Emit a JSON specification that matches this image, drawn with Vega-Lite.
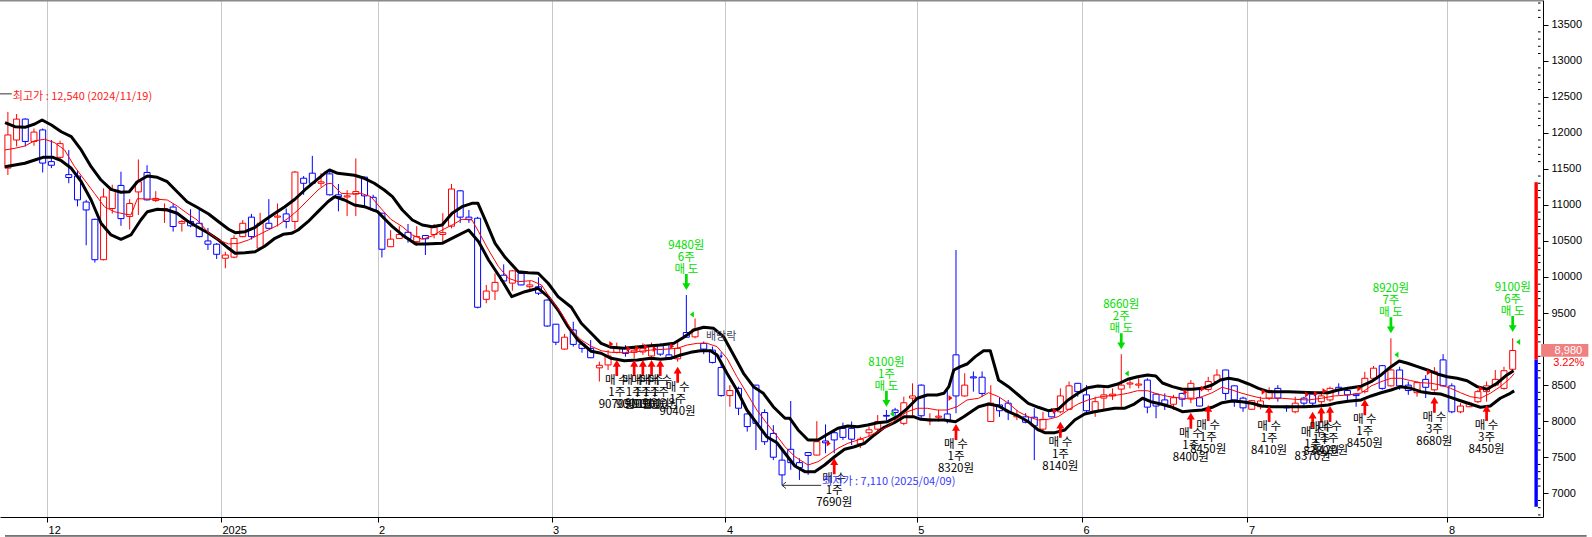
{
  "$schema": "https://vega.github.io/schema/vega-lite/v6.json",
  "width": 1543,
  "height": 517,
  "autosize": {"type": "none"},
  "padding": {"left": 0, "top": 0, "right": 49, "bottom": 20},
  "background": "#FFFFFF",
  "config": {"view": {"stroke": null}, "axis": {"title": null}},
  "datasets": {
    "candles": [
      {"i":-5,"o":11510,"h":12290,"l":11415,"c":11970},
      {"i":-4,"o":11900,"h":12260,"l":11810,"c":12190},
      {"i":-3,"o":12190,"h":12200,"l":11810,"c":11880},
      {"i":-2,"o":11880,"h":12060,"l":11820,"c":12010},
      {"i":-1,"o":12040,"h":12060,"l":11450,"c":11580},
      {"i":0,"o":11600,"h":11900,"l":11510,"c":11550},
      {"i":1,"o":11660,"h":11890,"l":11620,"c":11850},
      {"i":2,"o":11420,"h":11760,"l":11300,"c":11380},
      {"i":3,"o":11400,"h":11480,"l":10980,"c":11070},
      {"i":4,"o":11040,"h":11070,"l":10440,"c":10930},
      {"i":5,"o":10800,"h":10810,"l":10200,"c":10240},
      {"i":6,"o":10240,"h":11230,"l":10230,"c":11110},
      {"i":7,"o":10950,"h":11280,"l":10880,"c":11210},
      {"i":8,"o":11270,"h":11460,"l":10710,"c":10810},
      {"i":9,"o":10840,"h":11080,"l":10660,"c":11020},
      {"i":10,"o":11180,"h":11630,"l":10860,"c":11320},
      {"i":11,"o":11450,"h":11550,"l":11060,"c":11070},
      {"i":12,"o":11060,"h":11190,"l":11040,"c":11090},
      {"i":13,"o":10930,"h":11020,"l":10750,"c":10950},
      {"i":14,"o":10970,"h":11020,"l":10630,"c":10700},
      {"i":15,"o":10745,"h":10790,"l":10630,"c":10770},
      {"i":16,"o":10770,"h":10940,"l":10690,"c":10710},
      {"i":17,"o":10745,"h":10950,"l":10550,"c":10560},
      {"i":18,"o":10500,"h":10680,"l":10375,"c":10455},
      {"i":19,"o":10455,"h":10470,"l":10250,"c":10315},
      {"i":20,"o":10260,"h":10350,"l":10120,"c":10305},
      {"i":21,"o":10275,"h":10580,"l":10260,"c":10535},
      {"i":22,"o":10560,"h":10790,"l":10550,"c":10745},
      {"i":23,"o":10830,"h":10875,"l":10520,"c":10560},
      {"i":24,"o":10400,"h":10890,"l":10390,"c":10745},
      {"i":25,"o":10745,"h":11080,"l":10670,"c":10675},
      {"i":26,"o":10830,"h":11020,"l":10700,"c":10845},
      {"i":27,"o":10875,"h":10950,"l":10675,"c":10770},
      {"i":28,"o":10770,"h":11470,"l":10660,"c":11455},
      {"i":29,"o":11370,"h":11400,"l":11140,"c":11300},
      {"i":30,"o":11440,"h":11680,"l":11295,"c":11300},
      {"i":31,"o":11300,"h":11440,"l":11250,"c":11320},
      {"i":32,"o":11430,"h":11460,"l":11130,"c":11140},
      {"i":33,"o":11140,"h":11290,"l":10910,"c":11115},
      {"i":34,"o":11110,"h":11205,"l":10845,"c":11125},
      {"i":35,"o":11150,"h":11645,"l":10845,"c":11185},
      {"i":36,"o":11385,"h":11390,"l":10975,"c":11125},
      {"i":37,"o":11105,"h":11140,"l":10905,"c":10930},
      {"i":38,"o":10885,"h":10890,"l":10270,"c":10385},
      {"i":39,"o":10420,"h":10650,"l":10415,"c":10525},
      {"i":40,"o":10535,"h":10705,"l":10530,"c":10590},
      {"i":41,"o":10620,"h":10735,"l":10475,"c":10535},
      {"i":42,"o":10490,"h":10705,"l":10430,"c":10560},
      {"i":43,"o":10575,"h":10580,"l":10305,"c":10530},
      {"i":44,"o":10590,"h":10735,"l":10535,"c":10685},
      {"i":45,"o":10590,"h":10885,"l":10490,"c":10615},
      {"i":46,"o":10705,"h":11290,"l":10675,"c":11220},
      {"i":47,"o":11195,"h":11205,"l":10750,"c":10830},
      {"i":48,"o":10830,"h":10930,"l":10750,"c":10800},
      {"i":49,"o":10815,"h":10835,"l":9565,"c":9580},
      {"i":50,"o":9690,"h":9890,"l":9635,"c":9805},
      {"i":51,"o":9805,"h":10050,"l":9680,"c":9925},
      {"i":52,"o":10025,"h":10175,"l":9890,"c":9945},
      {"i":53,"o":9915,"h":10095,"l":9810,"c":10085},
      {"i":54,"o":10050,"h":10070,"l":9885,"c":9890},
      {"i":55,"o":9865,"h":9945,"l":9810,"c":9890},
      {"i":56,"o":9865,"h":9995,"l":9750,"c":9775},
      {"i":57,"o":9680,"h":9690,"l":9310,"c":9320},
      {"i":58,"o":9345,"h":9350,"l":9055,"c":9095},
      {"i":59,"o":9000,"h":9210,"l":8990,"c":9165},
      {"i":60,"o":9265,"h":9380,"l":9035,"c":9065},
      {"i":61,"o":9070,"h":9105,"l":8950,"c":9010},
      {"i":62,"o":9010,"h":9125,"l":8875,"c":8880},
      {"i":63,"o":8740,"h":8825,"l":8550,"c":8775},
      {"i":64,"o":8780,"h":8985,"l":8710,"c":8905},
      {"i":65,"o":8955,"h":9090,"l":8940,"c":9020},
      {"i":66,"o":9010,"h":9055,"l":8895,"c":8940},
      {"i":67,"o":8955,"h":9035,"l":8870,"c":8985},
      {"i":68,"o":8960,"h":9080,"l":8920,"c":9010},
      {"i":69,"o":8905,"h":9090,"l":8870,"c":9035},
      {"i":70,"o":9055,"h":9080,"l":8905,"c":8930},
      {"i":71,"o":8920,"h":9055,"l":8850,"c":8865},
      {"i":72,"o":8865,"h":9125,"l":8825,"c":9010},
      {"i":73,"o":9230,"h":9750,"l":9160,"c":9165},
      {"i":74,"o":9170,"h":9425,"l":9150,"c":9275},
      {"i":75,"o":9080,"h":9105,"l":8930,"c":9000},
      {"i":76,"o":8985,"h":9035,"l":8800,"c":8815},
      {"i":77,"o":8745,"h":8805,"l":8340,"c":8355},
      {"i":78,"o":8355,"h":8500,"l":8200,"c":8425},
      {"i":79,"o":8455,"h":8480,"l":8085,"c":8180},
      {"i":80,"o":8100,"h":8110,"l":7855,"c":7925},
      {"i":81,"o":8500,"h":8505,"l":7600,"c":7970},
      {"i":82,"o":8120,"h":8165,"l":7670,"c":7715},
      {"i":83,"o":7830,"h":7945,"l":7460,"c":7500},
      {"i":84,"o":7460,"h":7600,"l":7110,"c":7255},
      {"i":85,"o":7610,"h":8280,"l":7325,"c":7425},
      {"i":86,"o":7425,"h":7485,"l":7185,"c":7355},
      {"i":87,"o":7565,"h":7570,"l":7255,"c":7525},
      {"i":88,"o":7530,"h":8000,"l":7525,"c":7715},
      {"i":89,"o":7725,"h":7955,"l":7555,"c":7700},
      {"i":90,"o":7840,"h":7890,"l":7555,"c":7740},
      {"i":91,"o":7900,"h":7980,"l":7740,"c":7775},
      {"i":92,"o":7900,"h":7995,"l":7670,"c":7750},
      {"i":93,"o":7685,"h":7785,"l":7625,"c":7750},
      {"i":94,"o":7840,"h":7925,"l":7785,"c":7880},
      {"i":95,"o":7890,"h":8085,"l":7830,"c":7995},
      {"i":96,"o":8080,"h":8155,"l":7995,"c":8070},
      {"i":97,"o":8155,"h":8185,"l":8015,"c":8120},
      {"i":98,"o":7970,"h":8340,"l":7945,"c":8255},
      {"i":99,"o":8320,"h":8525,"l":8060,"c":8350},
      {"i":100,"o":8500,"h":8510,"l":8040,"c":8075},
      {"i":101,"o":8005,"h":8110,"l":7945,"c":8025},
      {"i":102,"o":8055,"h":8155,"l":7995,"c":8070},
      {"i":103,"o":8100,"h":8455,"l":7970,"c":8015},
      {"i":104,"o":8920,"h":10375,"l":8110,"c":8350},
      {"i":105,"o":8350,"h":8665,"l":8340,"c":8500},
      {"i":106,"o":8615,"h":8690,"l":8410,"c":8600},
      {"i":107,"o":8610,"h":8690,"l":8340,"c":8385},
      {"i":108,"o":7995,"h":8500,"l":7990,"c":8250},
      {"i":109,"o":8225,"h":8330,"l":8060,"c":8145},
      {"i":110,"o":8250,"h":8295,"l":8015,"c":8130},
      {"i":111,"o":8060,"h":8155,"l":8015,"c":8080},
      {"i":112,"o":8060,"h":8110,"l":7970,"c":7985},
      {"i":113,"o":8055,"h":8180,"l":7460,"c":7935},
      {"i":114,"o":7890,"h":8130,"l":7830,"c":8025},
      {"i":115,"o":8145,"h":8180,"l":8055,"c":8060},
      {"i":116,"o":8130,"h":8455,"l":8110,"c":8350},
      {"i":117,"o":8165,"h":8550,"l":8155,"c":8490},
      {"i":118,"o":8525,"h":8530,"l":8340,"c":8410},
      {"i":119,"o":8365,"h":8500,"l":8085,"c":8145},
      {"i":120,"o":8130,"h":8340,"l":8060,"c":8270},
      {"i":121,"o":8320,"h":8455,"l":8155,"c":8365},
      {"i":122,"o":8350,"h":8455,"l":8295,"c":8375},
      {"i":123,"o":8445,"h":8930,"l":8200,"c":8500},
      {"i":124,"o":8515,"h":8595,"l":8455,"c":8530},
      {"i":125,"o":8500,"h":8595,"l":8455,"c":8515},
      {"i":126,"o":8570,"h":8595,"l":8110,"c":8195},
      {"i":127,"o":8375,"h":8385,"l":8040,"c":8210},
      {"i":128,"o":8295,"h":8385,"l":8155,"c":8235},
      {"i":129,"o":8235,"h":8365,"l":8155,"c":8325},
      {"i":130,"o":8385,"h":8395,"l":8200,"c":8305},
      {"i":131,"o":8320,"h":8570,"l":8250,"c":8525},
      {"i":132,"o":8325,"h":8455,"l":8205,"c":8210},
      {"i":133,"o":8440,"h":8615,"l":8410,"c":8550},
      {"i":134,"o":8550,"h":8720,"l":8525,"c":8640},
      {"i":135,"o":8710,"h":8715,"l":8295,"c":8385},
      {"i":136,"o":8490,"h":8495,"l":8200,"c":8295},
      {"i":137,"o":8320,"h":8340,"l":8130,"c":8185},
      {"i":138,"o":8165,"h":8295,"l":8155,"c":8285},
      {"i":139,"o":8200,"h":8340,"l":8165,"c":8280},
      {"i":140,"o":8320,"h":8470,"l":8295,"c":8425},
      {"i":141,"o":8455,"h":8500,"l":8270,"c":8320},
      {"i":142,"o":8205,"h":8225,"l":8130,"c":8185},
      {"i":143,"o":8130,"h":8340,"l":8110,"c":8250},
      {"i":144,"o":8320,"h":8340,"l":8200,"c":8250},
      {"i":145,"o":8375,"h":8410,"l":8200,"c":8250},
      {"i":146,"o":8270,"h":8385,"l":8200,"c":8350},
      {"i":147,"o":8295,"h":8480,"l":8270,"c":8455},
      {"i":148,"o":8470,"h":8525,"l":8365,"c":8435},
      {"i":149,"o":8425,"h":8455,"l":8295,"c":8365},
      {"i":150,"o":8375,"h":8390,"l":8200,"c":8355},
      {"i":151,"o":8410,"h":8685,"l":8385,"c":8595},
      {"i":152,"o":8595,"h":8765,"l":8570,"c":8735},
      {"i":153,"o":8770,"h":8780,"l":8435,"c":8455},
      {"i":154,"o":8490,"h":9150,"l":8480,"c":8710},
      {"i":155,"o":8710,"h":8755,"l":8435,"c":8490},
      {"i":156,"o":8500,"h":8550,"l":8365,"c":8425},
      {"i":157,"o":8395,"h":8550,"l":8340,"c":8535},
      {"i":158,"o":8580,"h":8640,"l":8320,"c":8470},
      {"i":159,"o":8435,"h":8750,"l":8410,"c":8685},
      {"i":160,"o":8850,"h":8930,"l":8480,"c":8490},
      {"i":161,"o":8490,"h":8525,"l":8110,"c":8130},
      {"i":162,"o":8130,"h":8250,"l":8110,"c":8210},
      {"i":163,"o":8200,"h":8270,"l":8195,"c":8250},
      {"i":164,"o":8270,"h":8435,"l":8250,"c":8410},
      {"i":165,"o":8410,"h":8550,"l":8270,"c":8490},
      {"i":166,"o":8500,"h":8710,"l":8480,"c":8580},
      {"i":167,"o":8455,"h":8755,"l":8435,"c":8700},
      {"i":168,"o":8720,"h":9150,"l":8700,"c":8980}
    ],
    "env": [
      {"s":"U","i":-5.33,"v":12140},{"s":"U","i":-4.19,"v":12085},{"s":"U","i":-3.05,"v":12076},{"s":"U","i":-1.91,"v":12122},{"s":"U","i":-1.07,"v":12178},{"s":"U","i":0,"v":12108},{"s":"U","i":1.14,"v":12015},{"s":"U","i":2.29,"v":11946},{"s":"U","i":3.43,"v":11762},{"s":"U","i":4.57,"v":11530},{"s":"U","i":5.71,"v":11345},{"s":"U","i":6.86,"v":11216},{"s":"U","i":8.0,"v":11175},{"s":"U","i":8.95,"v":11183},{"s":"U","i":9.89,"v":11322},{"s":"U","i":11.04,"v":11401},{"s":"U","i":12.18,"v":11383},{"s":"U","i":13.32,"v":11322},{"s":"U","i":14.46,"v":11183},{"s":"U","i":15.6,"v":11044},{"s":"U","i":16.75,"v":10967},{"s":"U","i":18.08,"v":10874},{"s":"U","i":19.23,"v":10767},{"s":"U","i":20.37,"v":10662},{"s":"U","i":21.13,"v":10615},{"s":"U","i":22.27,"v":10628},{"s":"U","i":23.42,"v":10689},{"s":"U","i":24.56,"v":10791},{"s":"U","i":25.7,"v":10884},{"s":"U","i":26.84,"v":10975},{"s":"U","i":27.99,"v":11078},{"s":"U","i":29.13,"v":11207},{"s":"U","i":30.27,"v":11322},{"s":"U","i":31.41,"v":11438},{"s":"U","i":31.98,"v":11484},{"s":"U","i":32.93,"v":11438},{"s":"U","i":34.84,"v":11411},{"s":"U","i":35.98,"v":11369},{"s":"U","i":37.12,"v":11300},{"s":"U","i":38.27,"v":11207},{"s":"U","i":39.21,"v":11114},{"s":"U","i":40.35,"v":10929},{"s":"U","i":41.5,"v":10791},{"s":"U","i":42.64,"v":10721},{"s":"U","i":43.78,"v":10698},{"s":"U","i":44.92,"v":10721},{"s":"U","i":46.07,"v":10884},{"s":"U","i":47.21,"v":10975},{"s":"U","i":48.35,"v":11022},{"s":"U","i":49.04,"v":11022},{"s":"U","i":49.87,"v":10791},{"s":"U","i":51.01,"v":10467},{"s":"U","i":52.16,"v":10273},{"s":"U","i":53.69,"v":10074},{"s":"U","i":54.83,"v":10060},{"s":"U","i":55.97,"v":10051},{"s":"U","i":57.11,"v":9913},{"s":"U","i":58.25,"v":9727},{"s":"U","i":59.78,"v":9580},{"s":"U","i":60.92,"v":9358},{"s":"U","i":62.06,"v":9219},{"s":"U","i":63.2,"v":9080},{"s":"U","i":64.35,"v":9025},{"s":"U","i":65.86,"v":9011},{"s":"U","i":67.0,"v":9025},{"s":"U","i":68.53,"v":9043},{"s":"U","i":70.05,"v":9057},{"s":"U","i":71.57,"v":9080},{"s":"U","i":72.71,"v":9164},{"s":"U","i":73.86,"v":9265},{"s":"U","i":75.0,"v":9302},{"s":"U","i":76.14,"v":9288},{"s":"U","i":77.28,"v":9172},{"s":"U","i":78.43,"v":8918},{"s":"U","i":79.57,"v":8664},{"s":"U","i":80.71,"v":8478},{"s":"U","i":81.85,"v":8387},{"s":"U","i":82.99,"v":8201},{"s":"U","i":84.34,"v":8040},{"s":"U","i":84.9,"v":8040},{"s":"U","i":85.85,"v":7878},{"s":"U","i":86.99,"v":7739},{"s":"U","i":88.14,"v":7739},{"s":"U","i":89.28,"v":7822},{"s":"U","i":90.42,"v":7901},{"s":"U","i":91.56,"v":7933},{"s":"U","i":92.71,"v":7924},{"s":"U","i":93.85,"v":7947},{"s":"U","i":94.99,"v":7979},{"s":"U","i":96.13,"v":7993},{"s":"U","i":97.27,"v":8062},{"s":"U","i":98.42,"v":8179},{"s":"U","i":99.56,"v":8318},{"s":"U","i":100.7,"v":8363},{"s":"U","i":101.83,"v":8363},{"s":"U","i":102.61,"v":8387},{"s":"U","i":103.18,"v":8479},{"s":"U","i":103.75,"v":8710},{"s":"U","i":104.51,"v":8756},{"s":"U","i":105.27,"v":8793},{"s":"U","i":106.22,"v":8895},{"s":"U","i":107.17,"v":8978},{"s":"U","i":107.94,"v":8978},{"s":"U","i":108.89,"v":8571},{"s":"U","i":110.03,"v":8478},{"s":"U","i":111.17,"v":8363},{"s":"U","i":112.31,"v":8248},{"s":"U","i":113.46,"v":8193},{"s":"U","i":114.6,"v":8146},{"s":"U","i":115.74,"v":8165},{"s":"U","i":116.89,"v":8294},{"s":"U","i":118.03,"v":8387},{"s":"U","i":119.17,"v":8465},{"s":"U","i":120.31,"v":8488},{"s":"U","i":121.45,"v":8478},{"s":"U","i":122.6,"v":8516},{"s":"U","i":123.74,"v":8581},{"s":"U","i":124.88,"v":8617},{"s":"U","i":126.02,"v":8641},{"s":"U","i":126.97,"v":8627},{"s":"U","i":127.74,"v":8530},{"s":"U","i":128.88,"v":8479},{"s":"U","i":130.02,"v":8442},{"s":"U","i":131.16,"v":8442},{"s":"U","i":132.31,"v":8456},{"s":"U","i":133.45,"v":8502},{"s":"U","i":134.4,"v":8571},{"s":"U","i":135.35,"v":8595},{"s":"U","i":136.5,"v":8571},{"s":"U","i":137.64,"v":8516},{"s":"U","i":138.78,"v":8456},{"s":"U","i":139.92,"v":8409},{"s":"U","i":142.2,"v":8409},{"s":"U","i":143.73,"v":8401},{"s":"U","i":145.25,"v":8395},{"s":"U","i":146.78,"v":8395},{"s":"U","i":147.92,"v":8433},{"s":"U","i":149.06,"v":8456},{"s":"U","i":150.58,"v":8485},{"s":"U","i":151.72,"v":8548},{"s":"U","i":152.87,"v":8641},{"s":"U","i":154.01,"v":8756},{"s":"U","i":154.96,"v":8835},{"s":"U","i":155.92,"v":8803},{"s":"U","i":157.06,"v":8756},{"s":"U","i":158.2,"v":8710},{"s":"U","i":159.34,"v":8655},{"s":"U","i":160.48,"v":8617},{"s":"U","i":161.62,"v":8595},{"s":"U","i":162.76,"v":8562},{"s":"U","i":163.91,"v":8479},{"s":"U","i":165.05,"v":8442},{"s":"U","i":166.2,"v":8526},{"s":"U","i":167.34,"v":8641},{"s":"U","i":168.1,"v":8700},
      {"s":"L","i":-5.33,"v":11530},{"s":"L","i":-4.19,"v":11553},{"s":"L","i":-3.05,"v":11577},{"s":"L","i":-1.91,"v":11623},{"s":"L","i":-0.96,"v":11660},{"s":"L","i":0.19,"v":11660},{"s":"L","i":1.14,"v":11613},{"s":"L","i":2.29,"v":11508},{"s":"L","i":3.43,"v":11322},{"s":"L","i":4.57,"v":11068},{"s":"L","i":5.71,"v":10745},{"s":"L","i":6.86,"v":10583},{"s":"L","i":8.0,"v":10523},{"s":"L","i":9.14,"v":10583},{"s":"L","i":10.28,"v":10791},{"s":"L","i":11.04,"v":10906},{"s":"L","i":12.18,"v":10939},{"s":"L","i":13.32,"v":10929},{"s":"L","i":14.46,"v":10884},{"s":"L","i":15.6,"v":10781},{"s":"L","i":16.75,"v":10698},{"s":"L","i":18.08,"v":10606},{"s":"L","i":19.23,"v":10513},{"s":"L","i":20.37,"v":10398},{"s":"L","i":21.13,"v":10329},{"s":"L","i":22.27,"v":10337},{"s":"L","i":23.42,"v":10351},{"s":"L","i":24.56,"v":10430},{"s":"L","i":25.7,"v":10537},{"s":"L","i":26.65,"v":10592},{"s":"L","i":27.6,"v":10606},{"s":"L","i":28.36,"v":10652},{"s":"L","i":29.5,"v":10767},{"s":"L","i":30.65,"v":10906},{"s":"L","i":31.79,"v":11044},{"s":"L","i":32.56,"v":11114},{"s":"L","i":33.7,"v":11068},{"s":"L","i":34.84,"v":10999},{"s":"L","i":35.98,"v":10975},{"s":"L","i":37.5,"v":10906},{"s":"L","i":38.64,"v":10767},{"s":"L","i":39.21,"v":10698},{"s":"L","i":40.35,"v":10583},{"s":"L","i":41.88,"v":10458},{"s":"L","i":43.02,"v":10458},{"s":"L","i":44.92,"v":10467},{"s":"L","i":46.44,"v":10559},{"s":"L","i":47.97,"v":10652},{"s":"L","i":49.12,"v":10490},{"s":"L","i":50.26,"v":10236},{"s":"L","i":51.78,"v":9958},{"s":"L","i":52.93,"v":9727},{"s":"L","i":54.44,"v":9796},{"s":"L","i":55.97,"v":9843},{"s":"L","i":57.11,"v":9727},{"s":"L","i":58.25,"v":9542},{"s":"L","i":59.4,"v":9311},{"s":"L","i":60.54,"v":9126},{"s":"L","i":62.06,"v":8970},{"s":"L","i":63.2,"v":8942},{"s":"L","i":64.35,"v":8872},{"s":"L","i":65.86,"v":8839},{"s":"L","i":67.39,"v":8849},{"s":"L","i":68.91,"v":8872},{"s":"L","i":70.05,"v":8858},{"s":"L","i":71.2,"v":8872},{"s":"L","i":72.34,"v":8918},{"s":"L","i":73.48,"v":8955},{"s":"L","i":74.62,"v":8978},{"s":"L","i":75.77,"v":8978},{"s":"L","i":76.53,"v":8918},{"s":"L","i":77.67,"v":8664},{"s":"L","i":78.81,"v":8433},{"s":"L","i":79.96,"v":8155},{"s":"L","i":81.1,"v":7971},{"s":"L","i":82.24,"v":7785},{"s":"L","i":83.42,"v":7700},{"s":"L","i":84.34,"v":7555},{"s":"L","i":85.48,"v":7379},{"s":"L","i":86.62,"v":7300},{"s":"L","i":87.76,"v":7300},{"s":"L","i":88.9,"v":7392},{"s":"L","i":90.04,"v":7507},{"s":"L","i":91.19,"v":7610},{"s":"L","i":92.33,"v":7646},{"s":"L","i":93.47,"v":7693},{"s":"L","i":94.61,"v":7809},{"s":"L","i":95.75,"v":7915},{"s":"L","i":96.9,"v":7979},{"s":"L","i":98.04,"v":8062},{"s":"L","i":99.18,"v":8060},{"s":"L","i":99.95,"v":8026},{"s":"L","i":101.09,"v":8017},{"s":"L","i":102.61,"v":8017},{"s":"L","i":103.94,"v":7993},{"s":"L","i":104.89,"v":8062},{"s":"L","i":106.03,"v":8155},{"s":"L","i":106.6,"v":8201},{"s":"L","i":107.75,"v":8238},{"s":"L","i":108.89,"v":8211},{"s":"L","i":110.03,"v":8132},{"s":"L","i":111.17,"v":8072},{"s":"L","i":112.31,"v":7993},{"s":"L","i":113.46,"v":7878},{"s":"L","i":114.22,"v":7841},{"s":"L","i":115.37,"v":7841},{"s":"L","i":116.51,"v":7878},{"s":"L","i":117.65,"v":8017},{"s":"L","i":118.79,"v":8100},{"s":"L","i":119.93,"v":8132},{"s":"L","i":121.08,"v":8155},{"s":"L","i":122.22,"v":8179},{"s":"L","i":123.36,"v":8179},{"s":"L","i":124.5,"v":8238},{"s":"L","i":125.45,"v":8318},{"s":"L","i":126.4,"v":8270},{"s":"L","i":127.54,"v":8238},{"s":"L","i":128.88,"v":8193},{"s":"L","i":130.02,"v":8132},{"s":"L","i":131.16,"v":8146},{"s":"L","i":132.31,"v":8155},{"s":"L","i":133.45,"v":8193},{"s":"L","i":134.59,"v":8257},{"s":"L","i":135.73,"v":8280},{"s":"L","i":136.87,"v":8270},{"s":"L","i":138.01,"v":8248},{"s":"L","i":139.16,"v":8211},{"s":"L","i":140.3,"v":8201},{"s":"L","i":142.2,"v":8201},{"s":"L","i":144.1,"v":8201},{"s":"L","i":145.64,"v":8211},{"s":"L","i":146.78,"v":8225},{"s":"L","i":147.92,"v":8257},{"s":"L","i":149.06,"v":8277},{"s":"L","i":150.58,"v":8295},{"s":"L","i":151.72,"v":8350},{"s":"L","i":152.87,"v":8395},{"s":"L","i":154.01,"v":8433},{"s":"L","i":155.15,"v":8479},{"s":"L","i":156.29,"v":8456},{"s":"L","i":157.44,"v":8409},{"s":"L","i":158.58,"v":8387},{"s":"L","i":159.71,"v":8377},{"s":"L","i":160.86,"v":8331},{"s":"L","i":162.0,"v":8284},{"s":"L","i":163.14,"v":8238},{"s":"L","i":164.29,"v":8193},{"s":"L","i":165.43,"v":8211},{"s":"L","i":166.57,"v":8318},{"s":"L","i":167.72,"v":8387},{"s":"L","i":168.17,"v":8420}
    ],
    "ma": [
      {"i":-5.33,"v":11762},{"i":-4.19,"v":11785},{"i":-3.05,"v":11817},{"i":-1.91,"v":11890},{"i":-0.76,"v":11910},{"i":0.38,"v":11863},{"i":1.52,"v":11762},{"i":2.67,"v":11530},{"i":3.81,"v":11345},{"i":4.95,"v":11161},{"i":6.09,"v":10975},{"i":7.23,"v":10906},{"i":8.37,"v":10874},{"i":9.14,"v":10860},{"i":9.89,"v":11086},{"i":11.04,"v":11082},{"i":12.18,"v":11078},{"i":13.32,"v":11068},{"i":14.46,"v":10985},{"i":15.6,"v":10884},{"i":16.75,"v":10791},{"i":18.08,"v":10615},{"i":19.23,"v":10513},{"i":20.37,"v":10458},{"i":21.51,"v":10467},{"i":22.65,"v":10513},{"i":23.79,"v":10583},{"i":24.94,"v":10652},{"i":26.08,"v":10721},{"i":27.22,"v":10814},{"i":28.36,"v":10929},{"i":29.5,"v":11068},{"i":30.65,"v":11207},{"i":31.6,"v":11290},{"i":32.17,"v":11300},{"i":33.31,"v":11161},{"i":34.45,"v":11151},{"i":35.59,"v":11161},{"i":36.74,"v":11114},{"i":37.88,"v":10953},{"i":39.02,"v":10800},{"i":40.35,"v":10698},{"i":41.5,"v":10583},{"i":42.64,"v":10523},{"i":43.78,"v":10569},{"i":44.92,"v":10652},{"i":46.07,"v":10721},{"i":47.21,"v":10800},{"i":48.35,"v":10791},{"i":49.12,"v":10628},{"i":50.26,"v":10375},{"i":51.4,"v":10143},{"i":52.54,"v":9982},{"i":53.69,"v":9935},{"i":55.21,"v":9949},{"i":56.35,"v":9889},{"i":57.49,"v":9681},{"i":58.64,"v":9496},{"i":59.78,"v":9265},{"i":60.92,"v":9126},{"i":62.06,"v":9040},{"i":63.2,"v":8978},{"i":64.35,"v":8955},{"i":65.86,"v":8950},{"i":67.39,"v":8964},{"i":68.91,"v":8987},{"i":70.43,"v":8997},{"i":71.96,"v":9011},{"i":73.1,"v":9057},{"i":74.25,"v":9080},{"i":75.39,"v":9080},{"i":76.53,"v":9034},{"i":77.67,"v":8872},{"i":78.81,"v":8617},{"i":79.96,"v":8387},{"i":81.1,"v":8155},{"i":82.24,"v":7971},{"i":83.38,"v":7800},{"i":84.34,"v":7646},{"i":85.48,"v":7508},{"i":86.99,"v":7392},{"i":88.14,"v":7438},{"i":89.28,"v":7531},{"i":90.42,"v":7624},{"i":91.56,"v":7693},{"i":92.71,"v":7739},{"i":93.85,"v":7785},{"i":94.99,"v":7854},{"i":96.13,"v":7924},{"i":97.27,"v":8040},{"i":98.42,"v":8132},{"i":99.56,"v":8179},{"i":100.7,"v":8179},{"i":101.83,"v":8155},{"i":102.99,"v":8155},{"i":104.13,"v":8201},{"i":105.27,"v":8294},{"i":106.6,"v":8318},{"i":107.75,"v":8395},{"i":108.89,"v":8340},{"i":110.03,"v":8248},{"i":111.17,"v":8132},{"i":112.31,"v":8062},{"i":113.46,"v":8017},{"i":114.6,"v":8026},{"i":115.74,"v":8062},{"i":116.89,"v":8155},{"i":118.03,"v":8238},{"i":119.17,"v":8294},{"i":120.31,"v":8331},{"i":121.45,"v":8350},{"i":122.6,"v":8363},{"i":123.74,"v":8387},{"i":124.88,"v":8423},{"i":126.02,"v":8423},{"i":127.16,"v":8377},{"i":128.31,"v":8345},{"i":130.02,"v":8318},{"i":131.16,"v":8304},{"i":132.31,"v":8340},{"i":133.45,"v":8395},{"i":134.59,"v":8470},{"i":135.73,"v":8433},{"i":136.87,"v":8387},{"i":138.01,"v":8350},{"i":139.16,"v":8318},{"i":141.44,"v":8318},{"i":142.96,"v":8304},{"i":144.49,"v":8294},{"i":146.02,"v":8318},{"i":147.53,"v":8350},{"i":149.06,"v":8363},{"i":150.58,"v":8390},{"i":151.72,"v":8488},{"i":152.87,"v":8548},{"i":154.01,"v":8595},{"i":155.15,"v":8595},{"i":156.29,"v":8562},{"i":157.44,"v":8534},{"i":158.58,"v":8526},{"i":159.71,"v":8502},{"i":160.86,"v":8456},{"i":162.0,"v":8395},{"i":163.14,"v":8340},{"i":164.29,"v":8318},{"i":165.43,"v":8387},{"i":166.57,"v":8479},{"i":167.72,"v":8595},{"i":168.17,"v":8660}
    ],
    "buys": [
      {"i":65,"tip":8849,"p":9070,"label":"매 수\n1주\n9070원"},
      {"i":67,"tip":8849,"p":9000,"label":"매 수\n1주\n9000원"},
      {"i":68,"tip":8849,"p":9010,"label":"매 수\n1주\n9010원"},
      {"i":69,"tip":8849,"p":9030,"label":"매 수\n1주\n9030원"},
      {"i":70,"tip":8849,"p":9000,"label":"매 수\n1주\n9000원"},
      {"i":72,"tip":8756,"p":9040,"label":"매 수\n1주\n9040원"},
      {"i":90,"tip":7485,"p":7690,"label":"매 수\n1주\n7690원"},
      {"i":104,"tip":7961,"p":8320,"label":"매 수\n1주\n8320원"},
      {"i":116,"tip":7993,"p":8140,"label":"매 수\n1주\n8140원"},
      {"i":131,"tip":8118,"p":8400,"label":"매 수\n1주\n8400원"},
      {"i":133,"tip":8225,"p":8450,"label":"매 수\n1주\n8450원"},
      {"i":140,"tip":8211,"p":8410,"label":"매 수\n1주\n8410원"},
      {"i":145,"tip":8132,"p":8370,"label":"매 수\n1주\n8370원"},
      {"i":146,"tip":8201,"p":8380,"label":"매 수\n1주\n8380원"},
      {"i":147,"tip":8211,"p":8420,"label":"매 수\n1주\n8420원"},
      {"i":151,"tip":8304,"p":8450,"label":"매 수\n1주\n8450원"},
      {"i":159,"tip":8340,"p":8680,"label":"매 수\n3주\n8680원"},
      {"i":165,"tip":8225,"p":8450,"label":"매 수\n3주\n8450원"}
    ],
    "sells": [
      {"i":73,"tip":9820,"p":9480,"label":"9480원\n6주\n매 도"},
      {"i":96,"tip":8201,"p":8100,"label":"8100원\n1주\n매 도"},
      {"i":123,"tip":8997,"p":8660,"label":"8660원\n2주\n매 도"},
      {"i":154,"tip":9219,"p":8920,"label":"8920원\n7주\n매 도"},
      {"i":168,"tip":9237,"p":9100,"label":"9100원\n6주\n매 도"}
    ],
    "extremes": [
      {"k":"hi","from":-9,"i":-4.55,"p":12540,"label":"최고가 : 12,540 (2024/11/19)"},
      {"k":"lo","from":84,"i":88.5,"p":7110,"label":"최저가 : 7,110 (2025/04/09)"}
    ],
    "exdiv": [{"i":77,"tip":8872,"label":"배당락"}],
    "band": [{"k":"up","lo":8854,"hi":11315},{"k":"down","lo":6813,"hi":8854}],
    "last": [{"close":8980,"txt":"8,980","pct":"3.22%"}],
    "minor": [
      {"v":6700},{"v":6800},{"v":6900},{"v":7100},{"v":7200},{"v":7300},{"v":7400},{"v":7600},{"v":7700},{"v":7800},{"v":7900},
      {"v":8100},{"v":8200},{"v":8300},{"v":8400},{"v":8600},{"v":8700},{"v":8800},{"v":8900},{"v":9100},{"v":9200},{"v":9300},{"v":9400},
      {"v":9600},{"v":9700},{"v":9800},{"v":9900},{"v":10100},{"v":10200},{"v":10300},{"v":10400},{"v":10600},{"v":10700},{"v":10800},{"v":10900},
      {"v":11100},{"v":11200},{"v":11300},{"v":11400},{"v":11600},{"v":11700},{"v":11800},{"v":11900},{"v":12100},{"v":12200},{"v":12300},{"v":12400},
      {"v":12600},{"v":12700},{"v":12800},{"v":12900},{"v":13100},{"v":13200},{"v":13300},{"v":13400},{"v":13600},{"v":13700},{"v":13800}
    ]
  },
  "layer": [
    {
      "data": {"name": "candles"},
      "mark": {"type": "rule", "strokeWidth": 1},
      "encoding": {
        "x": {
          "field": "i", "type": "quantitative",
          "scale": {"domain": [-5.332, 170.91], "nice": false, "zero": false},
          "axis": {
            "orient": "bottom",
            "values": [-0.5, 19.5, 37.5, 57.5, 77.5, 99.5, 118.5, 137.5, 160.5],
            "tickCount": 50,
            "labelExpr": "datum.value < 0 ? '12' : datum.value < 20 ? '2025' : datum.value < 38 ? '2' : datum.value < 58 ? '3' : datum.value < 78 ? '4' : datum.value < 100 ? '5' : datum.value < 119 ? '6' : datum.value < 138 ? '7' : '8'",
            "grid": true, "gridColor": "#C8C8C8", "gridWidth": 1,
            "domain": true, "domainColor": "#000000", "domainWidth": 1,
            "ticks": true, "tickColor": "#000000", "tickSize": 5,
            "labels": true, "labelAlign": "left", "labelBaseline": "top", "labelPadding": 2, "labelOffset": 1,
            "labelFont": "Liberation Sans", "labelFontSize": 11, "labelColor": "#000000",
            "labelFlush": false, "labelOverlap": false, "title": null
          }
        },
        "y": {
          "field": "l", "type": "quantitative",
          "scale": {"domain": [6671, 13842], "nice": false, "zero": false},
          "axis": {
            "orient": "right",
            "values": [7000,7500,8000,8500,9000,9500,10000,10500,11000,11500,12000,12500,13000,13500],
            "tickCount": 50,
            "format": "d",
            "tickSize": 5,
            "ticks": true, "tickColor": "#000000", "domain": true, "domainColor": "#000000",
            "labels": true, "labelPadding": 3, "labelFont": "Liberation Sans", "labelFontSize": 11, "labelColor": "#000000",
            "labelOverlap": false, "labelFlush": false, "grid": false, "title": null
          }
        },
        "y2": {"field": "h"},
        "color": {"condition": {"test": "datum.c >= datum.o", "value": "#FF0000"}, "value": "#0000FF"}
      }
    },
    {
      "data": {"name": "candles"},
      "mark": {"type": "bar", "fill": "#FFFFFF", "strokeWidth": 1},
      "encoding": {
        "x": {"field": "i", "type": "quantitative"},
        "y": {"field": "o", "type": "quantitative"},
        "y2": {"field": "c"},
        "size": {"value": 6},
        "stroke": {"condition": {"test": "datum.c >= datum.o", "value": "#FF0000"}, "value": "#0000FF"}
      }
    },
    {
      "data": {"name": "env"},
      "mark": {"type": "line", "color": "#000000", "strokeWidth": 3, "strokeJoin": "round"},
      "encoding": {
        "x": {"field": "i", "type": "quantitative"},
        "y": {"field": "v", "type": "quantitative"},
        "detail": {"field": "s"},
        "order": {"field": "i"}
      }
    },
    {
      "data": {"name": "ma"},
      "mark": {"type": "line", "color": "#FF0000", "strokeWidth": 1},
      "encoding": {
        "x": {"field": "i", "type": "quantitative"},
        "y": {"field": "v", "type": "quantitative"}
      }
    },
    {
      "data": {"values": [{}]},
      "mark": {"type": "rule", "color": "#8A8A8A", "strokeWidth": 2},
      "encoding": {
        "y": {"datum": 13836, "type": "quantitative"}
      }
    },
    {
      "data": {"name": "minor"},
      "mark": {"type": "rule", "color": "#000000", "strokeWidth": 1},
      "encoding": {
        "x": {"datum": 170.91, "type": "quantitative"},
        "x2": {"datum": 171.2},
        "y": {"field": "v", "type": "quantitative"}
      }
    },
    {
      "data": {"name": "band"},
      "mark": {"type": "rect"},
      "encoding": {
        "x": {"datum": 170.5, "type": "quantitative"},
        "x2": {"datum": 170.89},
        "y": {"field": "hi", "type": "quantitative"},
        "y2": {"field": "lo"},
        "color": {"condition": {"test": "datum.k === 'up'", "value": "#FF0000"}, "value": "#0000FF"}
      }
    },
    {
      "data": {"name": "buys"},
      "mark": {"type": "point", "shape": "M0,0L0.5,0.85L0.17,0.85L0.17,2L-0.17,2L-0.17,0.85L-0.5,0.85Z", "filled": true, "size": 256, "color": "#FF0000", "opacity": 1},
      "encoding": {
        "x": {"field": "i", "type": "quantitative"},
        "y": {"field": "tip", "type": "quantitative"}
      }
    },
    {
      "data": {"name": "buys"},
      "mark": {"type": "point", "shape": "M-1.5,-0.6L-0.7,0L-1.5,0.6Z", "filled": true, "size": 100, "color": "#FF0000", "opacity": 1},
      "encoding": {
        "x": {"field": "i", "type": "quantitative"},
        "y": {"field": "p", "type": "quantitative"}
      }
    },
    {
      "data": {"name": "sells"},
      "mark": {"type": "point", "shape": "M0,0L0.5,-0.85L0.17,-0.85L0.17,-2L-0.17,-2L-0.17,-0.85L-0.5,-0.85Z", "filled": true, "size": 256, "color": "#00DD00", "opacity": 1},
      "encoding": {
        "x": {"field": "i", "type": "quantitative"},
        "y": {"field": "tip", "type": "quantitative"}
      }
    },
    {
      "data": {"name": "sells"},
      "mark": {"type": "point", "shape": "M1.5,-0.6L0.7,0L1.5,0.6Z", "filled": true, "size": 100, "color": "#00DD00", "opacity": 1},
      "encoding": {
        "x": {"field": "i", "type": "quantitative"},
        "y": {"field": "p", "type": "quantitative"}
      }
    },
    {
      "data": {"name": "buys"},
      "mark": {"type": "text", "baseline": "top", "align": "center", "dy": 15, "lineBreak": "\n", "lineHeight": 12, "font": "Noto Sans CJK KR", "fontSize": 11.5, "color": "#000000"},
      "encoding": {
        "x": {"field": "i", "type": "quantitative"},
        "y": {"field": "tip", "type": "quantitative"},
        "text": {"field": "label"}
      }
    },
    {
      "data": {"name": "sells"},
      "mark": {"type": "text", "baseline": "top", "align": "center", "dy": -50, "lineBreak": "\n", "lineHeight": 12, "font": "Noto Sans CJK KR", "fontSize": 11.5, "color": "#00DD00"},
      "encoding": {
        "x": {"field": "i", "type": "quantitative"},
        "y": {"field": "tip", "type": "quantitative"},
        "text": {"field": "label"}
      }
    },
    {
      "data": {"name": "extremes"},
      "mark": {"type": "rule", "color": "#333333", "strokeWidth": 1},
      "encoding": {
        "x": {"field": "from", "type": "quantitative"},
        "x2": {"field": "i"},
        "y": {"field": "p", "type": "quantitative"}
      }
    },
    {
      "data": {"name": "extremes"},
      "transform": [{"filter": "datum.k === 'lo'"}],
      "mark": {"type": "point", "shape": "M1,-0.8L0,0L1,0.8", "filled": false, "size": 64, "color": "#333333", "strokeWidth": 1, "opacity": 1},
      "encoding": {
        "x": {"field": "from", "type": "quantitative"},
        "y": {"field": "p", "type": "quantitative"}
      }
    },
    {
      "data": {"name": "extremes"},
      "transform": [{"filter": "datum.k === 'hi'"}],
      "mark": {"type": "text", "align": "left", "baseline": "middle", "dx": 1, "dy": 3, "font": "Noto Sans CJK KR", "fontSize": 11, "color": "#FF2020"},
      "encoding": {
        "x": {"field": "i", "type": "quantitative"},
        "y": {"field": "p", "type": "quantitative"},
        "text": {"field": "label"}
      }
    },
    {
      "data": {"name": "extremes"},
      "transform": [{"filter": "datum.k === 'lo'"}],
      "mark": {"type": "text", "align": "left", "baseline": "middle", "dx": 1, "dy": -3, "font": "Noto Sans CJK KR", "fontSize": 11, "color": "#3A3AFF"},
      "encoding": {
        "x": {"field": "i", "type": "quantitative"},
        "y": {"field": "p", "type": "quantitative"},
        "text": {"field": "label"}
      }
    },
    {
      "data": {"name": "exdiv"},
      "mark": {"type": "point", "shape": "M0,0L0.6,-0.9L0.15,-0.9L0.15,-2L-0.15,-2L-0.15,-0.9L-0.6,-0.9Z", "filled": true, "size": 36, "color": "#0000FF", "opacity": 1},
      "encoding": {
        "x": {"field": "i", "type": "quantitative"},
        "y": {"field": "tip", "type": "quantitative"}
      }
    },
    {
      "data": {"name": "exdiv"},
      "mark": {"type": "text", "align": "center", "baseline": "middle", "dy": -21, "font": "Noto Sans CJK KR", "fontSize": 11, "color": "#46465E"},
      "encoding": {
        "x": {"field": "i", "type": "quantitative"},
        "y": {"field": "tip", "type": "quantitative"},
        "text": {"field": "label"}
      }
    },
    {
      "data": {"name": "last"},
      "mark": {"type": "rect", "color": "#F08080"},
      "encoding": {
        "x": {"datum": 171.27, "type": "quantitative"},
        "x2": {"datum": 176.7},
        "y": {"datum": 9070, "type": "quantitative"},
        "y2": {"datum": 8895}
      }
    },
    {
      "data": {"name": "last"},
      "mark": {"type": "text", "align": "center", "baseline": "middle", "font": "Liberation Sans", "fontSize": 11, "color": "#FFFFFF"},
      "encoding": {
        "x": {"datum": 174.4, "type": "quantitative"},
        "y": {"field": "close", "type": "quantitative"},
        "text": {"field": "txt"}
      }
    },
    {
      "data": {"name": "last"},
      "mark": {"type": "text", "align": "center", "baseline": "middle", "dy": 12, "font": "Liberation Sans", "fontSize": 11, "color": "#FF0000"},
      "encoding": {
        "x": {"datum": 174.45, "type": "quantitative"},
        "y": {"field": "close", "type": "quantitative"},
        "text": {"field": "pct"}
      }
    },
    {
      "data": {"values": [{}]},
      "mark": {"type": "rule", "color": "#000000", "strokeWidth": 1},
      "encoding": {
        "x": {"datum": -5.332, "type": "quantitative"},
        "x2": {"datum": 176.5},
        "y": {"datum": 6408, "type": "quantitative"}
      }
    }
  ]
}
